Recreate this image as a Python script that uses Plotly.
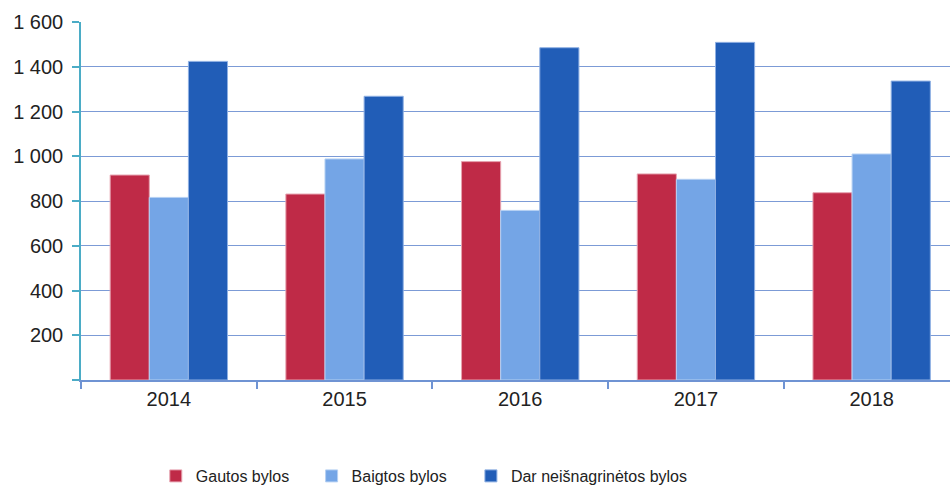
import plotly.graph_objects as go

years = ["2014", "2015", "2016", "2017", "2018"]
gautos = [916, 831, 976, 921, 837]
baigtos = [816, 988, 758, 897, 1010]
dar = [1424, 1268, 1485, 1509, 1336]
series_names = ["Gautos bylos", "Baigtos bylos", "Dar neišnagrinėtos bylos"]
colors = ["#BF2A47", "#74A5E6", "#215DB7"]
edge_colors = ["#E6A3B0", "#B5D0F3", "#8FB0E3"]
y_tickvals = [0, 200, 400, 600, 800, 1000, 1200, 1400, 1600]
y_ticktext = ["", "200", "400", "600", "800", "1 000", "1 200", "1 400", "1 600"]

legend_ids = ["legend", "legend2", "legend3"]
legend_x = [0.164, 0.328, 0.4957]

fig = go.Figure()
for name, vals, c, ec, lid in zip(series_names, [gautos, baigtos, dar], colors, edge_colors, legend_ids):
    fig.add_trace(go.Bar(x=years, y=vals, name=name, legend=lid,
                         marker=dict(color=c, line=dict(color=ec, width=1))))

font_family = "Liberation Sans, Arial, sans-serif"
legend_font = dict(family=font_family, size=16, color="#222222")
layout_legends = {}
for lid, lx in zip(legend_ids, legend_x):
    layout_legends[lid] = dict(orientation="h", x=lx, xanchor="left", y=0.0206, yanchor="middle",
                               xref="container", yref="container", itemwidth=30,
                               font=legend_font, bgcolor="rgba(0,0,0,0)")

fig.update_layout(
    width=950, height=486,
    margin=dict(l=81, r=0, t=22, b=106, autoexpand=False),
    paper_bgcolor="white", plot_bgcolor="white",
    barmode="group", bargap=0.332, bargroupgap=0,
    font=dict(family=font_family, color="#222222", size=20),
    showlegend=True,
    **layout_legends,
)
fig.update_xaxes(
    type="category", range=[-0.5, 4.446], tickson="boundaries", automargin=False,
    ticks="outside", ticklen=7, tickcolor="#6F93D3", tickwidth=1.5,
    showline=True, linecolor="#6F93D3", linewidth=1.5, showgrid=False,
    tickfont=dict(size=20, family=font_family, color="#222222"),
)
fig.update_yaxes(
    range=[0, 1600], tickvals=y_tickvals, ticktext=y_ticktext, automargin=False,
    ticks="outside", ticklen=7, tickcolor="#4BACC6", tickwidth=1.5,
    showline=True, linecolor="#4BACC6", linewidth=1.5,
    showgrid=True, gridcolor="#7C9BD6", gridwidth=1.3, zeroline=False,
    tickfont=dict(size=20, family=font_family, color="#222222"),
    ticklabelstandoff=5,
)
fig.write_html("out.html", config={"displayModeBar": False},
               post_script="document.body.style.margin='0';document.body.style.overflow='hidden';")
